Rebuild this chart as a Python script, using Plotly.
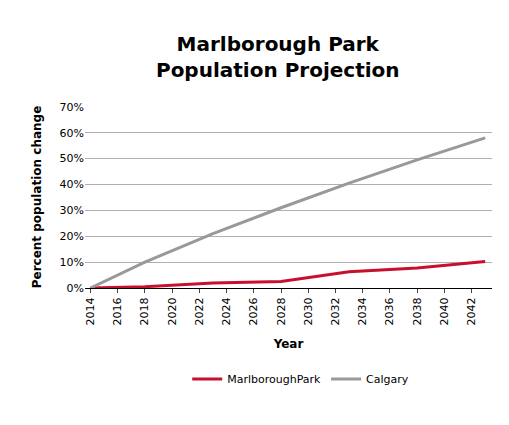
import plotly.graph_objects as go

years = [2014, 2018, 2023, 2028, 2033, 2038, 2043]
marlborough = [0.0, 0.005, 0.019, 0.025, 0.063, 0.077, 0.102]
calgary = [0.0, 0.10, 0.21, 0.31, 0.405, 0.495, 0.58]
tick_years = list(range(2014, 2043, 2))

fig = go.Figure()
fig.add_trace(go.Scatter(x=years, y=marlborough, mode='lines', name='MarlboroughPark',
                         line=dict(color='#c8102e', width=3)))
fig.add_trace(go.Scatter(x=years, y=calgary, mode='lines', name='Calgary',
                         line=dict(color='#999999', width=3)))

fig.update_layout(
    width=509, height=425,
    font=dict(family='DejaVu Sans', size=11, color='black'),
    title=dict(text='<b>Marlborough Park<br>Population Projection</b>', x=0.53, y=0.9,
               xanchor='center', font=dict(size=20)),
    plot_bgcolor='white', paper_bgcolor='white',
    margin=dict(l=77, r=25, t=98, b=145),
    legend=dict(orientation='h', x=0.53, xanchor='center', y=-0.42, yanchor='top'),
    xaxis=dict(range=[2013.6, 2043.5], tickvals=tick_years, tickangle=-90,
               title=dict(text='<b>Year</b>', font=dict(size=12)),
               showline=True, linecolor='black', showgrid=False, ticks='outside', ticklen=4),
    yaxis=dict(range=[0, 0.703], dtick=0.1, tickformat='.0%', gridcolor='#b0b0b0',
               title=dict(text='<b>Percent population change</b>', font=dict(size=12)),
               zeroline=False),
)

fig.write_html("out.html")
